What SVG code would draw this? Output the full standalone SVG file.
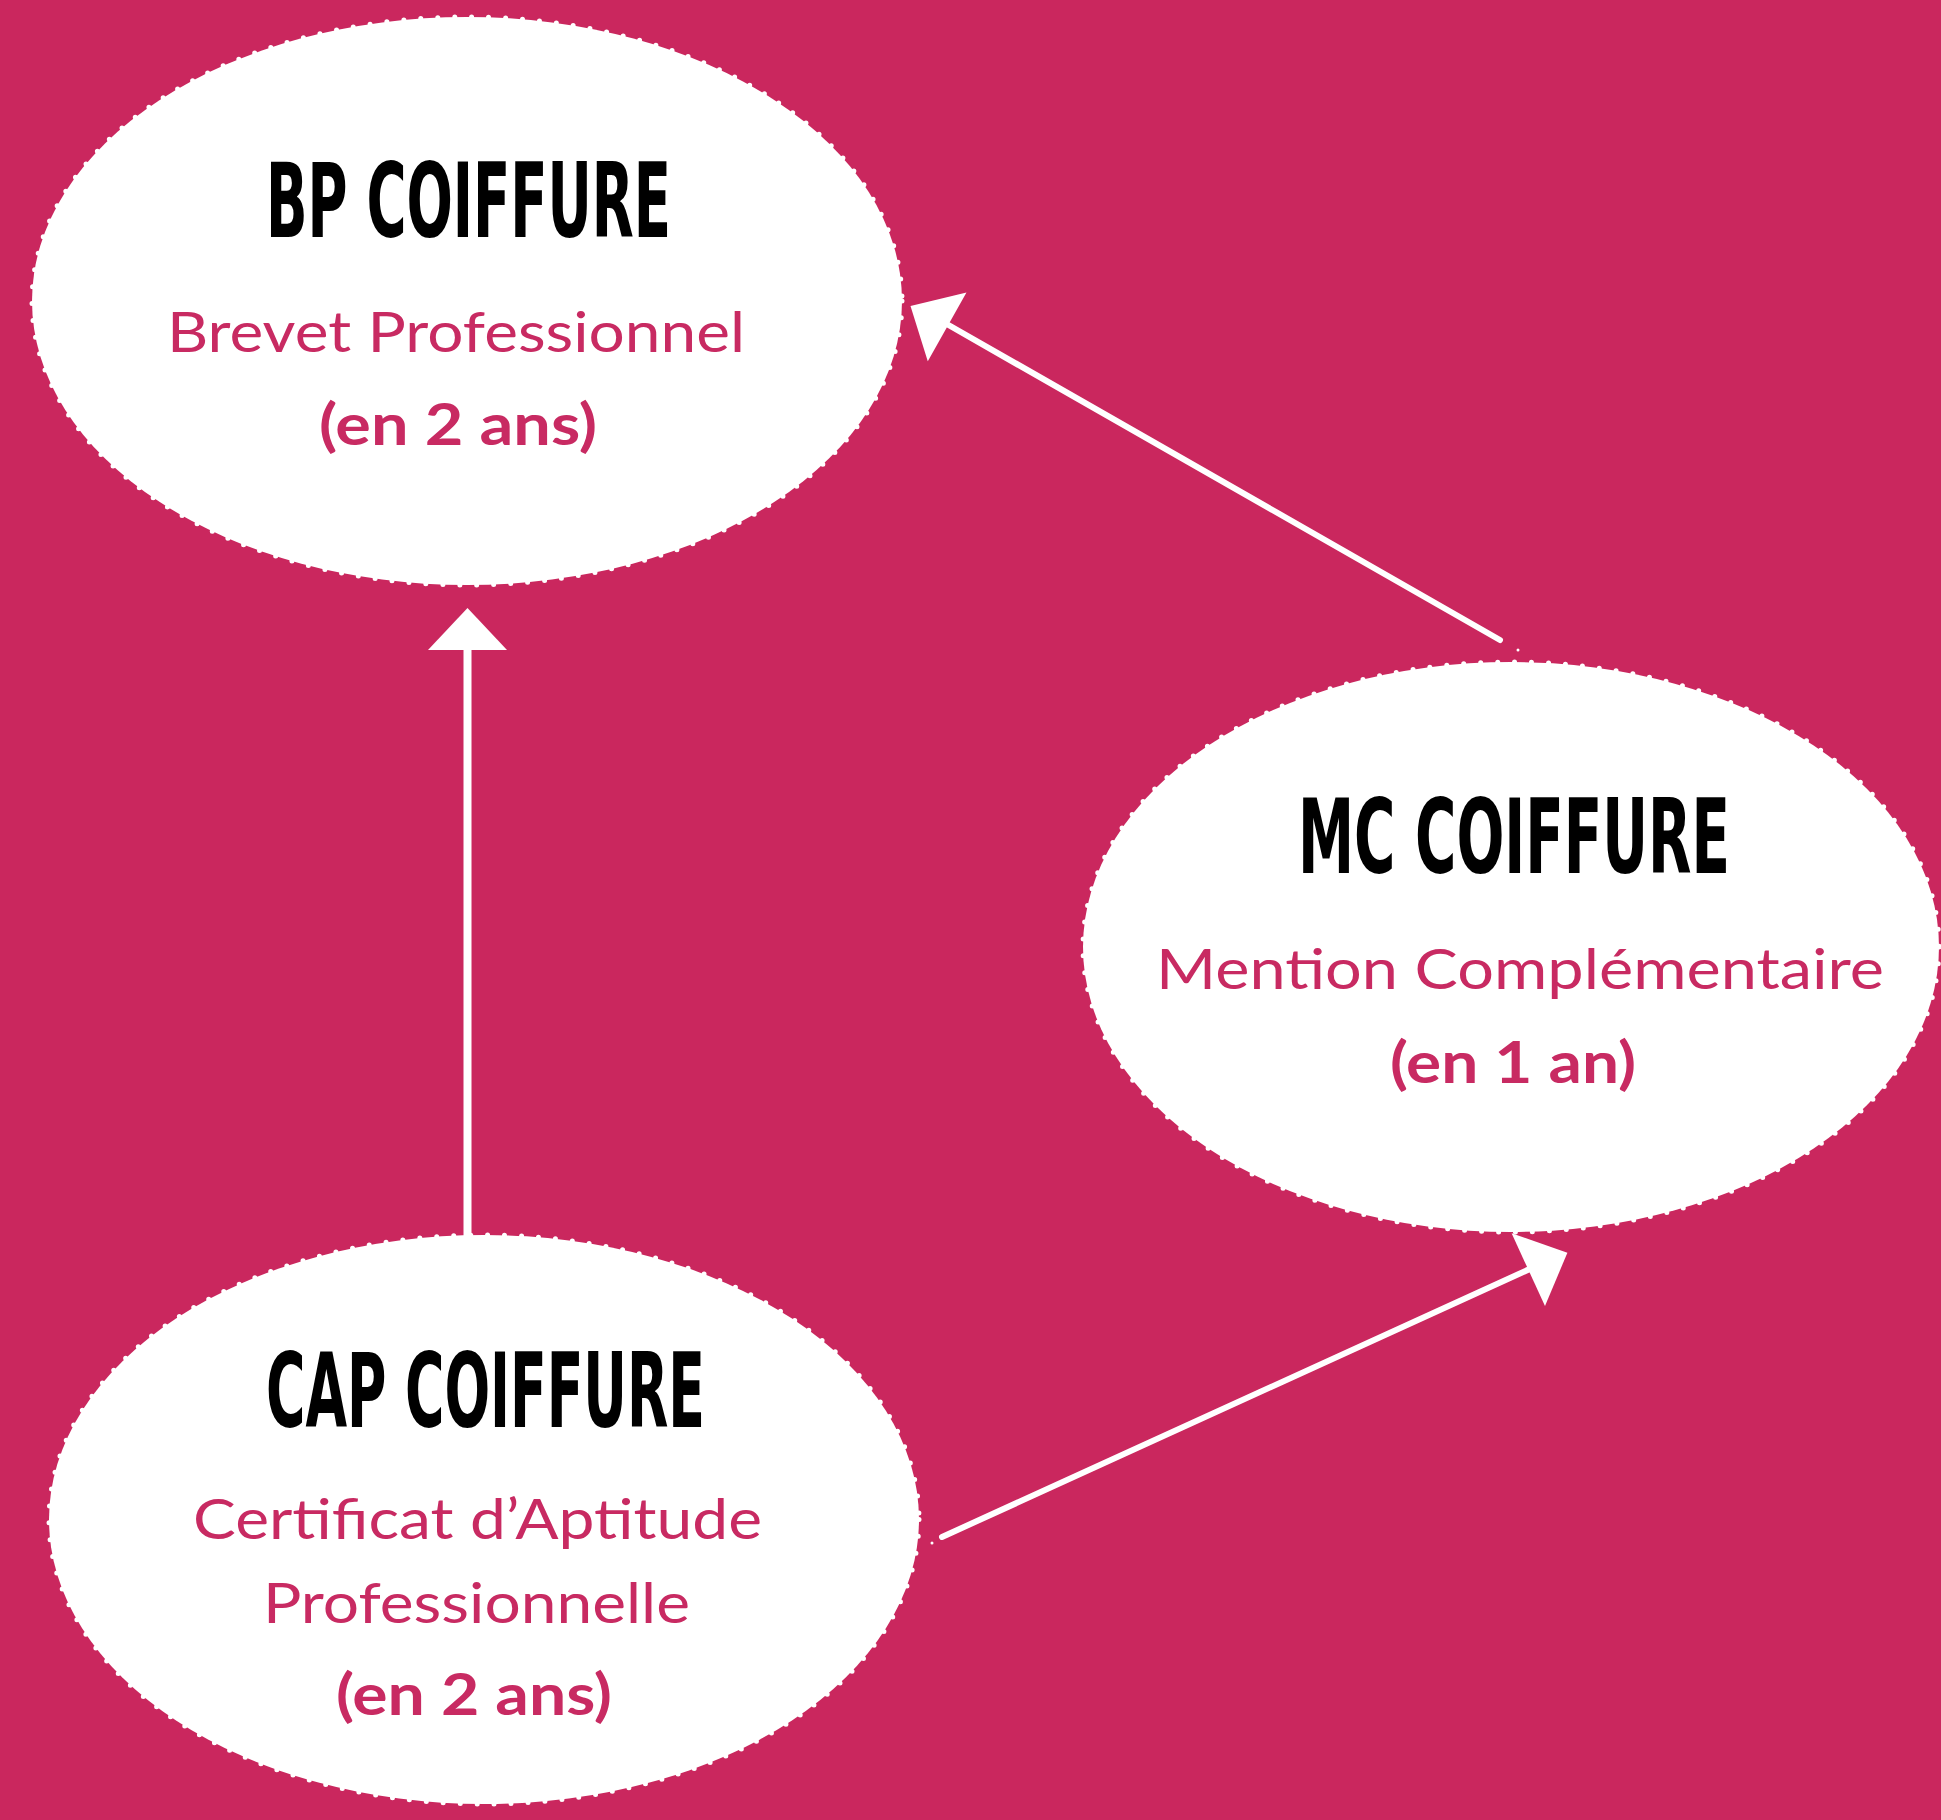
<svg xmlns="http://www.w3.org/2000/svg" width="1941" height="1820" viewBox="0 0 1941 1820">
<style>
.bg{fill:#CA275E}
.node{fill:#FFFFFF;stroke:#FFFFFF;stroke-width:5;stroke-dasharray:0 17;stroke-linecap:round}
.title{font-family:"DejaVu Sans Condensed","DejaVu Sans",sans-serif;font-weight:bold;font-size:104px;fill:#000000}
.sub{font-family:Lato,"Open Sans",sans-serif;font-size:56px;fill:#C82A62}
.dur{font-family:Lato,"Open Sans",sans-serif;font-weight:bold;font-size:58px;fill:#C82A62}
.conn{stroke:#FFFFFF;stroke-width:6;stroke-linecap:round;fill:none}
.head{fill:#FFFFFF}
</style>
<rect class="bg" x="0" y="0" width="1941" height="1820"/>
<g id="connectors">
<line class="conn" x1="467.5" y1="1236" x2="467.5" y2="648" style="stroke-width:8;stroke-linecap:butt"/>
<polygon class="head" points="467.5,608 428,650 507,650"/>
<line class="conn" x1="1500" y1="640" x2="945" y2="323"/>
<polygon class="head" points="910.5,306 966.5,292.5 927.8,361.3"/>
<circle class="head" cx="1518" cy="650" r="1.5"/>
<line class="conn" x1="942" y1="1537" x2="1532" y2="1268"/>
<polygon class="head" points="1511.6,1233.3 1567.4,1252.7 1545,1306"/>
<circle class="head" cx="932" cy="1543" r="1.5"/>
</g>
<g id="node-bp">
<ellipse class="node" cx="467" cy="301" rx="435" ry="284"/>
<text class="title" x="266" y="237" textLength="405" lengthAdjust="spacingAndGlyphs">BP COIFFURE</text>
<text class="sub" x="456" y="352" text-anchor="middle" textLength="578" lengthAdjust="spacingAndGlyphs">Brevet Professionnel</text>
<text class="dur" x="458" y="445" text-anchor="middle" textLength="278" lengthAdjust="spacingAndGlyphs">(en 2 ans)</text>
</g>
<g id="node-mc">
<ellipse class="node" cx="1511" cy="947" rx="428" ry="285"/>
<text class="title" x="1298" y="873" textLength="432" lengthAdjust="spacingAndGlyphs">MC COIFFURE</text>
<text class="sub" x="1520" y="989" text-anchor="middle" textLength="728" lengthAdjust="spacingAndGlyphs">Mention Complémentaire</text>
<text class="dur" x="1513" y="1083" text-anchor="middle" textLength="246" lengthAdjust="spacingAndGlyphs">(en 1 an)</text>
</g>
<g id="node-cap">
<ellipse class="node" cx="484" cy="1519.5" rx="435" ry="284.5"/>
<text class="title" x="266" y="1427" textLength="439" lengthAdjust="spacingAndGlyphs">CAP COIFFURE</text>
<text class="sub" x="477.5" y="1539" text-anchor="middle" textLength="569" lengthAdjust="spacingAndGlyphs">Certificat d’Aptitude</text>
<text class="sub" x="476.5" y="1623" text-anchor="middle" textLength="427" lengthAdjust="spacingAndGlyphs">Professionnelle</text>
<text class="dur" x="474" y="1715" text-anchor="middle" textLength="276" lengthAdjust="spacingAndGlyphs">(en 2 ans)</text>
</g>
</svg>
